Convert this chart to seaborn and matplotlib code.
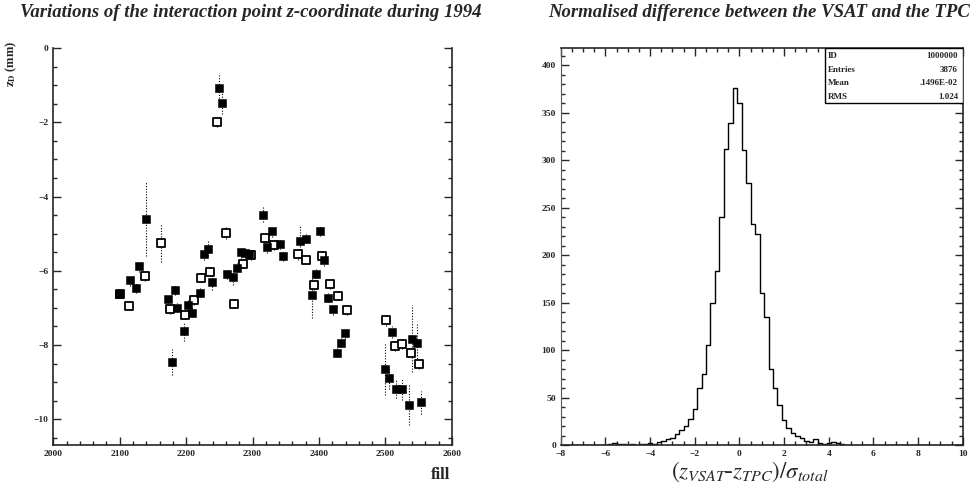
import numpy as np
import pandas as pd
import matplotlib
matplotlib.use("Agg")
import matplotlib.pyplot as plt
import seaborn as sns
from matplotlib.ticker import MultipleLocator
from matplotlib.patches import Rectangle

# ---------------- left panel data (fill number, z in mm, error) ----------------
fill_vsat = [2099, 2116, 2124, 2129, 2140, 2172, 2179, 2183, 2187, 2197, 2203, 2209,
             2221, 2227, 2233, 2239, 2250, 2254, 2262, 2271, 2276, 2283, 2289, 2294,
             2316, 2322, 2330, 2341, 2346, 2371, 2381, 2389, 2396, 2401, 2408, 2414,
             2421, 2427, 2433, 2439, 2500, 2505, 2510, 2516, 2525, 2535, 2540, 2547, 2553]
z_vsat = [-6.62, -6.26, -6.46, -5.88, -4.60, -6.76, -8.46, -6.51, -7.00, -7.63, -6.91, -7.13,
          -6.59, -5.56, -5.40, -6.31, -1.08, -1.47, -6.10, -6.18, -5.92, -5.50, -5.52, -5.56,
          -4.49, -5.36, -4.94, -5.28, -5.59, -5.21, -5.14, -6.66, -6.08, -4.92, -5.72, -6.73,
          -7.04, -8.21, -7.94, -7.69, -8.64, -8.90, -7.65, -9.19, -9.19, -9.62, -7.83, -7.96, -9.55]
err_vsat = [0.12, 0.15, 0.15, 0.15, 1.00, 0.12, 0.35, 0.15, 0.12, 0.25, 0.12, 0.12,
            0.12, 0.15, 0.20, 0.20, 0.35, 0.30, 0.12, 0.20, 0.12, 0.15, 0.12, 0.12,
            0.20, 0.15, 0.15, 0.12, 0.15, 0.45, 0.12, 0.60, 0.12, 0.15, 0.15, 0.12,
            0.15, 0.12, 0.12, 0.15, 0.70, 0.30, 0.15, 0.25, 0.30, 0.55, 0.90, 0.55, 0.30]

fill_tpc = [2100, 2114, 2138, 2162, 2176, 2198, 2212, 2223, 2236, 2247, 2260, 2272,
            2285, 2297, 2319, 2332, 2369, 2380, 2393, 2404, 2417, 2429, 2442,
            2501, 2514, 2525, 2538, 2550]
z_tpc = [-6.62, -6.94, -6.15, -5.25, -7.04, -7.18, -6.80, -6.19, -6.03, -1.98, -4.98, -6.89,
         -5.81, -5.58, -5.12, -5.31, -5.56, -5.70, -6.39, -5.61, -6.36, -6.67, -7.07,
         -7.33, -8.03, -7.98, -8.21, -8.52]
err_tpc = [0.10, 0.10, 0.12, 0.50, 0.12, 0.12, 0.12, 0.12, 0.12, 0.15, 0.15, 0.12,
           0.12, 0.12, 0.12, 0.12, 0.15, 0.12, 0.12, 0.12, 0.12, 0.12, 0.12,
           0.15, 0.12, 0.12, 0.12, 0.12]

left_title = "Variations of the interaction point z-coordinate during 1994"
right_title = "Normalised difference between the VSAT and the TPC"

# ---------------- right panel data (histogram, bin width 0.2) ----------------
hist_first_center = -6.0
bin_width = 0.2
counts = [0, 1, 2, 1, 1, 0, 1, 0, 1, 1,
          2, 1, 3, 4, 6, 8, 12, 16, 20, 28,
          38, 60, 75, 105, 150, 183, 240, 312, 339, 376,
          360, 311, 276, 233, 222, 160, 135, 80, 60, 42,
          26, 18, 13, 10, 7, 4, 3, 6, 2, 1,
          2, 3, 2, 1, 0, 0]
stats_labels = ["ID", "Entries", "Mean", "RMS"]
stats_values = ["1000000", "3876", ".1496E-02", "1.024"]

# ---------------- style ----------------
sns.set_style("ticks")
plt.rcParams["font.family"] = ["Liberation Serif", "DejaVu Serif"]
plt.rcParams["mathtext.fontset"] = "stix"
plt.rcParams["xtick.direction"] = "in"
plt.rcParams["ytick.direction"] = "in"

fig = plt.figure(figsize=(9.77, 4.87), dpi=100)
axL = fig.add_axes([0.0545, 0.086, 0.408, 0.815])
axR = fig.add_axes([0.574, 0.086, 0.4115, 0.815])

# ---------------- left panel ----------------
eb = axL.errorbar(fill_vsat, z_vsat, yerr=err_vsat, fmt="none", ecolor="black",
                  elinewidth=0.8, capsize=0, zorder=1)
for c in eb[2]:
    c.set_linestyle((0, (1, 1.5)))
eb2 = axL.errorbar(fill_tpc, z_tpc, yerr=err_tpc, fmt="none", ecolor="black",
                   elinewidth=0.8, capsize=0, zorder=1)
for c in eb2[2]:
    c.set_linestyle((0, (1, 1.5)))

df_tpc = pd.DataFrame({"fill": fill_tpc, "z": z_tpc})
df_vsat = pd.DataFrame({"fill": fill_vsat, "z": z_vsat})
sns.scatterplot(data=df_tpc, x="fill", y="z", ax=axL, marker="s", s=27, facecolor="white",
                edgecolor="black", linewidth=1.3, zorder=3)
sns.scatterplot(data=df_vsat, x="fill", y="z", ax=axL, marker="s", s=33, color="black",
                edgecolor="black", linewidth=0.4, zorder=4)

axL.set_xlim(2000, 2600)
axL.set_ylim(-10.7, 0)
axL.xaxis.set_major_locator(MultipleLocator(100))
axL.xaxis.set_minor_locator(MultipleLocator(20))
axL.yaxis.set_major_locator(MultipleLocator(2))
axL.yaxis.set_minor_locator(MultipleLocator(0.5))
axL.tick_params(which="both", right=True, top=False, labelsize=6.8, width=1.0)
axL.tick_params(which="major", length=6)
axL.tick_params(which="minor", length=3)
for lab in axL.get_xticklabels() + axL.get_yticklabels():
    lab.set_fontweight("bold")
for sp in ["left", "bottom", "right"]:
    axL.spines[sp].set_linewidth(1.2)
axL.spines["top"].set_visible(False)
axL.set_ylabel(r"$\mathbf{z_D}$ (mm)", fontsize=9, fontweight="bold", loc="top")
axL.yaxis.set_label_coords(-0.085, 1.02)
axL.set_xlabel("fill", fontsize=12, fontweight="bold", loc="right")
axL.xaxis.set_label_coords(0.995, -0.055)

fig.text(0.257, 0.974, left_title, fontsize=13.5, fontweight="bold", style="italic",
         ha="center", va="center")
fig.text(0.777, 0.974, right_title, fontsize=13.5, fontweight="bold", style="italic",
         ha="center", va="center")

# ---------------- right panel ----------------
centers = hist_first_center + bin_width * np.arange(len(counts))
df_hist = pd.DataFrame({"x": centers, "w": counts})
sns.histplot(data=df_hist, x="x", weights="w", binwidth=bin_width, binrange=(-8.1, 10.1),
             element="step", fill=False, color="black", linewidth=1.0, ax=axR)
axR.set_xlim(-8, 10)
axR.set_ylim(0, 418)
axR.xaxis.set_major_locator(MultipleLocator(2))
axR.xaxis.set_minor_locator(MultipleLocator(0.5))
axR.yaxis.set_major_locator(MultipleLocator(50))
axR.yaxis.set_minor_locator(MultipleLocator(10))
axR.tick_params(which="both", right=True, top=True, labelsize=6.8, width=1.0)
axR.tick_params(which="major", length=6)
axR.tick_params(which="minor", length=3)
for lab in axR.get_xticklabels() + axR.get_yticklabels():
    lab.set_fontweight("bold")
axR.spines["left"].set_color("0.35")
axR.spines["left"].set_linewidth(0.8)
for sp in ["top", "bottom", "right"]:
    axR.spines[sp].set_linewidth(1.2)
axR.set_ylabel("")
axR.set_xlabel(r"$(z_{VSAT}$-$z_{TPC})/\sigma_{total}$", fontsize=16.5)
axR.xaxis.set_label_coords(0.47, -0.036)

# stats box
bx0, bx1 = 0.656, 1.0
by0, by1 = 0.861, 1.0
axR.add_patch(Rectangle((bx0, by0), bx1 - bx0, by1 - by0, transform=axR.transAxes,
                        facecolor="white", edgecolor="black", linewidth=1.0, zorder=5))
row_h = (by1 - by0) / len(stats_labels)
for i, (lab, val) in enumerate(zip(stats_labels, stats_values)):
    yy = by1 - (i + 0.55) * row_h
    axR.text(bx0 + 0.008, yy, lab, transform=axR.transAxes, fontsize=6.5,
             fontweight="bold", va="center", ha="left", zorder=6)
    axR.text(bx1 - 0.012, yy, val, transform=axR.transAxes, fontsize=6.5,
             fontweight="bold", va="center", ha="right", zorder=6)

fig.savefig("out.png", dpi=100)
